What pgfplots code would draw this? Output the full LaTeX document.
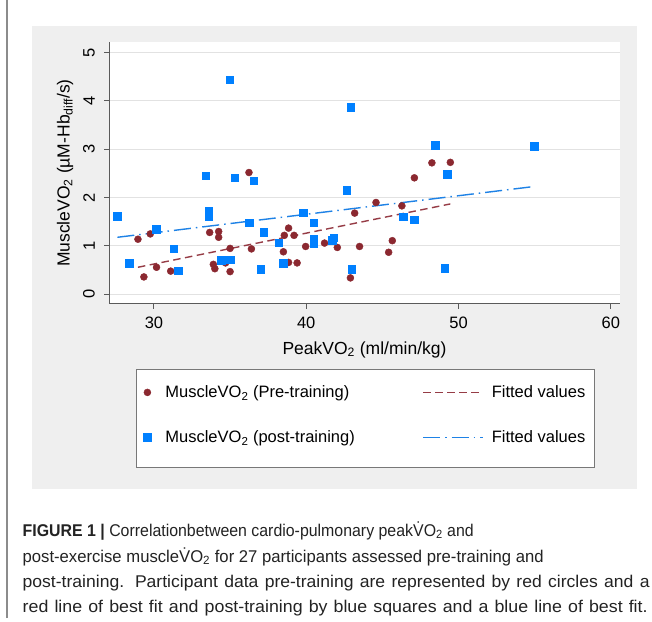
\documentclass[border=0pt]{standalone}
\usepackage{fontspec}
\setmainfont{Liberation Sans}
\newfontfamily\capfont[FakeStretch=0.98]{Liberation Sans}
\usepackage{graphicx}
\usepackage{pgfplots}
\usepackage{pgfplotstable}
\pgfplotsset{compat=1.18}
\definecolor{bggray}{RGB}{239,239,239}
\definecolor{gridgray}{RGB}{226,226,226}
\definecolor{axisgray}{RGB}{90,90,90}
\definecolor{legendgray}{RGB}{120,120,120}
\definecolor{framegray}{RGB}{140,140,140}
\definecolor{maroonS}{RGB}{139,40,48}
\definecolor{blueS}{RGB}{0,128,255}
\definecolor{maroonL}{RGB}{150,60,70}
\definecolor{blueL}{RGB}{30,130,230}
\definecolor{captext}{RGB}{35,35,35}

\pgfplotsset{
  scatterlegend/.style={legend image code/.code={\path[draw=none,fill=none] (0pt,5.5pt) -- (17pt,5.5pt); \draw[##1, only marks] plot coordinates {(7pt,5.5pt)};}},
  linelegend/.style={legend image code/.code={\draw[##1] (0pt,5.5pt) -- (60pt,5.5pt);}},
}

\pgfplotstableread{
x y
28.95 1.14
29.34 0.36
29.76 1.25
30.17 0.56
31.10 0.48
33.66 1.28
34.25 1.30
34.25 1.18
33.90 0.62
34.00 0.53
34.70 0.65
35.00 0.95
35.00 0.47
36.24 2.52
36.40 0.94
38.50 0.88
38.84 1.37
38.56 1.22
39.20 1.22
38.84 0.66
39.40 0.65
39.96 0.99
41.20 1.06
42.04 0.97
42.90 0.34
43.18 1.68
43.50 0.99
44.58 1.90
45.41 0.87
45.65 1.11
46.28 1.83
47.10 2.41
48.25 2.72
49.46 2.73
}\pretable

\pgfplotstableread{
x y
27.60 1.62
28.36 0.65
30.13 1.35
31.30 0.94
31.60 0.49
33.40 2.45
33.60 1.73
33.60 1.61
34.40 0.71
34.97 4.44
35.00 0.72
35.30 2.41
36.24 1.48
36.56 2.35
37.00 0.52
37.20 1.29
38.20 1.07
38.50 0.65
39.80 1.69
40.50 1.48
40.50 1.14
40.50 1.06
41.70 1.12
41.80 1.17
42.65 2.16
42.93 3.87
42.98 0.52
46.37 1.61
47.10 1.54
48.47 3.08
49.08 0.54
49.24 2.48
54.95 3.06
}\posttable

\begin{document}
\begin{tikzpicture}[x=1pt,y=1pt]
\useasboundingbox (0,0) rectangle (652,621);
\fill[white] (0,0) rectangle (652,621);
\fill[bggray] (32,132) rectangle (637,595);
\draw[framegray, line width=1.5pt] (7,3) -- (7,621);
\begin{axis}[
  at={(109pt,317pt)}, anchor=south west,
  scale only axis, width=511pt, height=262pt,
  xmin=27.05, xmax=60.6, ymin=-0.2, ymax=5.22,
  axis x line=bottom, axis y line=left,
  axis line style={-, draw=axisgray, line width=1pt},
  axis background/.style={fill=white},
  xtick={30,40,50,60}, ytick={0,1,2,3,4,5},
  tick align=outside, major tick length=5pt,
  tick style={draw=axisgray, line width=1pt},
  ymajorgrids, grid style={draw=gridgray, line width=1pt},
  /pgf/number format/assume math mode=true,
  xticklabel style={font=\fontsize{16.5}{19}\selectfont, anchor=north, inner sep=0pt, yshift=-8pt},
  yticklabel style={font=\fontsize{16.5}{19}\selectfont, rotate=90, anchor=south, inner xsep=0pt, inner ysep=9pt},
  every axis x label/.style={at={(axis description cs:0.5,-0.191)}, anchor=base, inner sep=0pt, font=\fontsize{17.5}{20}\selectfont},
  every axis y label/.style={at={(axis description cs:-0.077,0.5)}, rotate=90, anchor=base, inner sep=0pt, font=\fontsize{17.5}{20}\selectfont},
  xlabel={PeakVO\textsubscript{2} (ml/min/kg)},
  ylabel={MuscleVO\textsubscript{2} (\textmu M-Hb\textsubscript{diff}/s)},
  legend columns=2,
  legend style={at={(axis description cs:0.05284,-0.24809)}, anchor=north west,
    draw=legendgray, line width=0.8pt, fill=white,
    inner xsep=4pt, inner ysep=16.5pt, row sep=25pt,
    font=\fontsize{16.5}{19}\selectfont,
    cells={anchor=base west},
    nodes={inner sep=0pt, text height=12pt, text depth=8pt, anchor=base west},
    /tikz/every odd column/.append style={column sep=8pt},
    /tikz/every even column/.append style={column sep=11pt}},
]
\addplot[only marks, mark=*, mark size=3.5pt, mark options={draw=maroonS, fill=maroonS, line width=0.4pt}, scatterlegend]
  table[x=x,y=y] {\pretable};
\addlegendentry{\makebox[246pt][l]{MuscleVO\textsubscript{2} (Pre-training)}}
\addplot[maroonL, line width=1.4pt, dash pattern=on 7.5pt off 4.5pt, linelegend]
  coordinates {(28.95,0.56) (49.46,1.87)};
\addlegendentry{\makebox[99pt][l]{Fitted values}}
\addplot[only marks, mark=square*, mark size=3.8pt, mark options={draw=blueS, fill=blueS, line width=0.4pt}, scatterlegend]
  table[x=x,y=y] {\posttable};
\addlegendentry{\makebox[246pt][l]{MuscleVO\textsubscript{2} (post-training)}}
\addplot[blueL, line width=1.4pt, dash pattern=on 17pt off 5pt on 1.5pt off 5pt, linelegend]
  coordinates {(27.60,1.18) (54.95,2.23)};
\addlegendentry{\makebox[99pt][l]{Fitted values}}
\end{axis}
\begin{scope}[every node/.style={anchor=base west, inner sep=0pt, text=captext, font=\capfont\fontsize{17}{20}\selectfont}]
\node at (22.5,85) {\resizebox{451pt}{\height}{\textbf{FIGURE 1 |} Correlationbetween cardio-pulmonary peak\.{V}O\textsubscript{2} and}};
\node at (22.5,59) {post-exercise muscle\.{V}O\textsubscript{2} for 27 participants assessed pre-training and};
\node at (22.5,33.5) {\resizebox{627pt}{\height}{\makebox[595pt][s]{post-training. Participant data pre-training are represented by red circles and a}}};
\node at (22.5,8.5) {\resizebox{625pt}{\height}{\makebox[585pt][s]{red line of best fit and post-training by blue squares and a blue line of best fit.}}};
\end{scope}
\end{tikzpicture}
\end{document}
